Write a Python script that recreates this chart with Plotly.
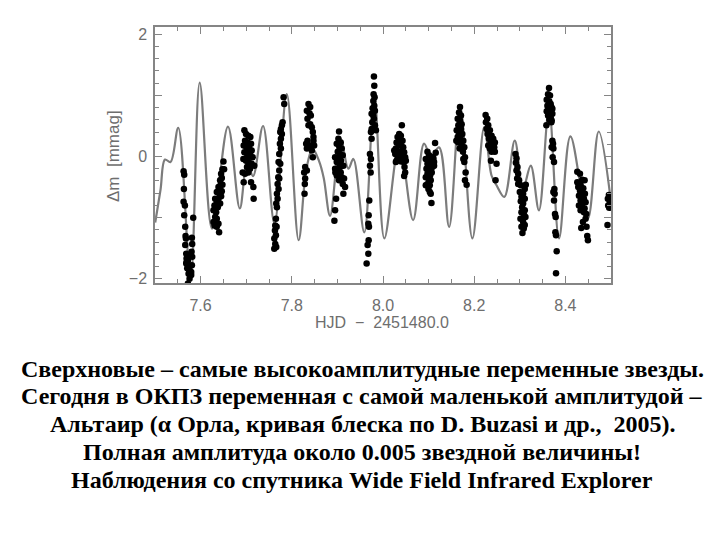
import plotly.graph_objects as go

# ---- model light curve (grey line): extrema / shoulders ----
model_hjd = [7.5005, 7.512, 7.522, 7.534, 7.551, 7.578, 7.598, 7.625, 7.660, 7.686,
             7.702, 7.715, 7.737, 7.762, 7.789, 7.815, 7.832, 7.846, 7.860, 7.870,
             7.884, 7.907, 7.924, 7.935, 7.959, 7.981, 8.003, 8.036, 8.066, 8.090,
             8.105, 8.123, 8.145, 8.169, 8.196, 8.222, 8.238, 8.249, 8.266, 8.289,
             8.307, 8.324, 8.342, 8.364, 8.386, 8.411, 8.449, 8.473, 8.500]
model_dm = [-1.08, -0.55, -0.05, -0.09, 0.47, -2.00, 1.21, -1.18, 0.49, -0.85,
            -0.10, -0.32, 0.50, -1.10, 1.02, -1.37, -0.20, 0.12, -0.08, -0.35,
            -0.97, 0.29, -0.20, -0.04, -1.24, 1.00, -1.34, 0.21, -1.04, 0.21,
            0.00, 0.15, -1.15, 0.83, -1.34, 0.48, -0.31, -0.47, -0.66, 0.26,
            -0.53, -0.15, -0.88, 0.78, -1.34, 0.33, -1.02, 0.41, -0.75]

# ---- WIRE observations (black dots) ----
obs_hjd = [
    # 7.56-7.58
    7.5627, 7.5641, 7.5634, 7.5627, 7.5656, 7.5641, 7.5663, 7.5670, 7.5678, 7.5663,
    7.5685, 7.5707, 7.5692, 7.5721, 7.5685, 7.5736, 7.5707, 7.5794, 7.5736, 7.5809,
    7.5816, 7.5802, 7.5816, 7.5809, 7.5838, 7.5758, 7.5721, 7.5794, 7.5692, 7.5750,
    # 7.63-7.65
    7.6501, 7.6479, 7.6515, 7.6450, 7.6465, 7.6428, 7.6443, 7.6479, 7.6392, 7.6428,
    7.6465, 7.6355, 7.6414, 7.6450, 7.6319, 7.6392, 7.6355, 7.6428, 7.6304, 7.6377,
    7.6282, 7.6341, 7.6319, 7.6355, 7.6282, 7.6392, 7.6355, 7.6406, 7.6304,
    # 7.69-7.72
    7.6960, 7.6996, 7.7047, 7.7091, 7.6974, 7.7033, 7.7106, 7.6945, 7.7004, 7.7069,
    7.7120, 7.6960, 7.7033, 7.7091, 7.7142, 7.6938, 7.6996, 7.7055, 7.7120, 7.7178,
    7.7018, 7.7084, 7.6923, 7.6974, 7.7047, 7.7106, 7.6945, 7.7157, 7.7164, 7.7018,
    # 7.76-7.78
    7.7820, 7.7834, 7.7798, 7.7783, 7.7761, 7.7747, 7.7783, 7.7761, 7.7739, 7.7761,
    7.7725, 7.7710, 7.7747, 7.7725, 7.7703, 7.7725, 7.7689, 7.7710, 7.7674, 7.7689,
    7.7659, 7.7674, 7.7652, 7.7637, 7.7667, 7.7630, 7.7652, 7.7616, 7.7637, 7.7616,
    7.7659,
    # 7.83-7.85
    7.8366, 7.8403, 7.8330, 7.8388, 7.8417, 7.8344, 7.8403, 7.8366, 7.8439, 7.8461,
    7.8475, 7.8315, 7.8403, 7.8490, 7.8330, 7.8439, 7.8461, 7.8293, 7.8330, 7.8271,
    7.8293, 7.8279, 7.8344, 7.8475, 7.8285,
    # 7.89-7.92
    7.9036, 7.9022, 7.9073, 7.8985, 7.9044, 7.9095, 7.9007, 7.9058, 7.9117, 7.8949,
    7.9022, 7.9080, 7.8985, 7.9044, 7.9131, 7.8949, 7.9007, 7.9073, 7.8985, 7.9095,
    7.9146, 7.9036, 7.9117, 7.9168, 7.9131, 7.8971, 7.8949, 7.8934, 7.9058, 7.8956,
    # 7.96-7.99
    7.9801, 7.9809, 7.9794, 7.9816, 7.9787, 7.9809, 7.9772, 7.9823, 7.9750, 7.9787,
    7.9801, 7.9765, 7.9823, 7.9736, 7.9750, 7.9714, 7.9736, 7.9714, 7.9729, 7.9699,
    7.9685, 7.9678, 7.9692, 7.9685, 7.9663, 7.9678, 7.9641, 7.9845, 7.9750,
    # 8.02-8.05
    8.0413, 8.0355, 8.0392, 8.0319, 8.0370, 8.0428, 8.0297, 8.0341, 8.0399, 8.0443,
    8.0282, 8.0413, 8.0319, 8.0377, 8.0464, 8.0268, 8.0428, 8.0486, 8.0297, 8.0355,
    8.0399, 8.0457, 8.0282, 8.0501, 8.0472, 8.0486, 8.0464, 8.0246, 8.0326,
    # 8.09-8.12
    8.1142, 8.0975, 8.1156, 8.1011, 8.1084, 8.0938, 8.1047, 8.1120, 8.0975, 8.1026,
    8.1084, 8.0953, 8.1011, 8.1069, 8.0975, 8.1033, 8.0938, 8.0996, 8.1047, 8.0975,
    8.1026, 8.0938, 8.0996, 8.1026, 8.1047, 8.1062, 8.1120, 8.1106,
    # 8.16-8.18
    8.1689, 8.1667, 8.1710, 8.1638, 8.1689, 8.1725, 8.1652, 8.1710, 8.1616, 8.1667,
    8.1740, 8.1638, 8.1696, 8.1761, 8.1652, 8.1725, 8.1783, 8.1681, 8.1754, 8.1798,
    8.1761, 8.1783, 8.1812, 8.1798, 8.1834, 8.1608,
    # 8.22-8.25
    8.2250, 8.2286, 8.2257, 8.2308, 8.2271, 8.2344, 8.2293, 8.2381, 8.2322, 8.2417,
    8.2366, 8.2453, 8.2395, 8.2308, 8.2439, 8.2344, 8.2417, 8.2381, 8.2453, 8.2366,
    8.2490, 8.2468,
    # 8.29-8.31
    8.2905, 8.2927, 8.2913, 8.2949, 8.2927, 8.2964, 8.2942, 8.2985, 8.2964, 8.3022,
    8.3131, 8.3109, 8.3000, 8.3073, 8.3036, 8.3109, 8.3022, 8.3073, 8.3051, 8.3109,
    8.3036, 8.3095, 8.3124, 8.3015, 8.3073, 8.3109, 8.3036, 8.3087, 8.3058,
    # 8.36-8.38
    8.3641, 8.3619, 8.3663, 8.3590, 8.3648, 8.3678, 8.3605, 8.3692, 8.3627, 8.3590,
    8.3663, 8.3714, 8.3619, 8.3678, 8.3648, 8.3699, 8.3583, 8.3692, 8.3714, 8.3729,
    8.3699, 8.3736, 8.3721, 8.3750, 8.3758, 8.3736, 8.3765, 8.3750, 8.3772, 8.3787,
    8.3780, 8.3794, 8.3809, 8.3794, 8.3714,
    # 8.42-8.45
    8.4261, 8.4319, 8.4370, 8.4421, 8.4261, 8.4333, 8.4282, 8.4392, 8.4319, 8.4370,
    8.4428, 8.4297, 8.4348, 8.4406, 8.4333, 8.4392, 8.4443, 8.4297, 8.4370, 8.4421,
    8.4333, 8.4406, 8.4457, 8.4443, 8.4348, 8.4464, 8.4479, 8.4494, 8.4384,
    # 8.49-8.50
    8.4953, 8.4931, 8.4974, 8.4938, 8.4960, 8.4923,
]
obs_dm = [
    -0.24, -0.30, -0.53, -0.74, -0.80, -0.96, -1.15, -1.30, -1.34, -1.45,
    -1.59, -1.62, -1.67, -1.70, -1.75, -1.78, -1.83, -1.89, -1.92, -1.78,
    -1.64, -1.56, -1.43, -1.33, -1.00, -2.00, -2.08, -1.94, -1.73, -1.86,
    -0.08, -0.21, -0.21, -0.28, -0.35, -0.39, -0.45, -0.46, -0.50, -0.53,
    -0.57, -0.58, -0.61, -0.65, -0.69, -0.69, -0.75, -0.77, -0.80, -0.83,
    -0.88, -0.91, -0.99, -1.02, -1.07, -1.10, -1.15, -1.24, -1.13,
    0.43, 0.37, 0.34, 0.32, 0.26, 0.23, 0.21, 0.18, 0.15, 0.13,
    0.10, 0.07, 0.04, 0.02, -0.01, -0.04, -0.07, -0.09, -0.12, -0.15,
    -0.17, -0.20, -0.26, -0.28, -0.26, -0.42, -0.42, -0.50, -0.69, -0.01,
    0.97, 0.86, 0.56, 0.51, 0.45, 0.40, 0.37, 0.29, 0.21, 0.13,
    0.04, -0.09, -0.12, -0.23, -0.34, -0.36, -0.45, -0.53, -0.61, -0.69,
    -0.77, -0.83, -1.02, -1.13, -1.15, -1.21, -1.29, -1.34, -1.43, -1.51,
    -1.48,
    0.86, 0.81, 0.75, 0.71, 0.67, 0.62, 0.53, 0.51, 0.48, 0.40,
    0.32, 0.21, 0.18, 0.18, 0.13, 0.10, -0.01, -0.17, -0.23, -0.26,
    -0.36, -0.61, 0.26, 0.26, -0.45,
    0.41, 0.29, 0.23, 0.21, 0.15, 0.13, 0.08, 0.04, 0.02, -0.01,
    -0.03, -0.07, -0.09, -0.12, -0.15, -0.20, -0.23, -0.26, -0.31, -0.34,
    -0.36, -0.39, -0.45, -0.50, -0.61, -0.69, -0.88, -1.05, -0.17, -0.26,
    1.31, 1.16, 1.02, 0.97, 0.91, 0.83, 0.79, 0.75, 0.70, 0.67,
    0.62, 0.56, 0.51, 0.40, 0.29, 0.04, -0.04, -0.15, -0.26, -0.72,
    -0.96, -1.10, -1.15, -1.37, -1.45, -1.59, -1.75, 0.43, 0.45,
    0.51, 0.37, 0.34, 0.32, 0.29, 0.26, 0.23, 0.21, 0.18, 0.15,
    0.13, 0.10, 0.07, 0.04, 0.07, 0.04, 0.01, -0.01, -0.07, -0.04,
    -0.08, -0.09, -0.09, -0.07, -0.17, -0.26, -0.32, 0.10, -0.01,
    0.22, 0.08, 0.06, 0.02, -0.01, -0.04, -0.07, -0.09, -0.12, -0.15,
    -0.17, -0.20, -0.23, -0.26, -0.28, -0.31, -0.34, -0.36, -0.39, -0.45,
    -0.47, -0.47, -0.53, -0.58, -0.61, -0.76, -0.15, -0.03,
    0.81, 0.72, 0.67, 0.62, 0.59, 0.53, 0.51, 0.45, 0.43, 0.40,
    0.37, 0.32, 0.29, 0.26, 0.23, 0.18, 0.15, 0.13, 0.08, -0.01,
    -0.04, -0.09, -0.26, -0.39, -0.46, 0.26,
    0.68, 0.62, 0.56, 0.51, 0.45, 0.43, 0.37, 0.34, 0.29, 0.29,
    0.23, 0.23, 0.18, 0.18, 0.15, 0.13, 0.10, 0.08, 0.08, -0.07,
    -0.12, -0.39,
    0.04, -0.03, -0.10, -0.17, -0.23, -0.28, -0.36, -0.39, -0.45, -0.47,
    -0.46, -0.53, -0.58, -0.61, -0.66, -0.69, -0.73, -0.77, -0.83, -0.88,
    -0.91, -0.96, -0.99, -1.02, -1.07, -1.12, -1.15, -1.18, -1.25,
    1.12, 1.02, 1.00, 0.93, 0.90, 0.86, 0.83, 0.81, 0.78, 0.74,
    0.71, 0.70, 0.67, 0.64, 0.60, 0.59, 0.51, 0.56, 0.26, 0.21,
    0.15, 0.13, -0.01, -0.09, -0.53, -0.58, -0.61, -0.72, -0.94, -0.99,
    -1.24, -1.29, -1.55, -1.91, 0.78,
    -0.25, -0.28, -0.38, -0.39, -0.42, -0.46, -0.50, -0.52, -0.56, -0.58,
    -0.61, -0.64, -0.66, -0.69, -0.72, -0.75, -0.75, -0.80, -0.83, -0.85,
    -0.88, -0.91, -0.94, -1.02, -1.17, -1.15, -1.30, -1.37, -1.07,
    -0.63, -0.69, -0.74, -0.80, -0.84, -1.12,
]

x_tick_vals = [7.6, 7.8, 8.0, 8.2, 8.4]
x_tick_text = ["7.6", "7.8", "8.0", "8.2", "8.4"]
y_tick_vals = [-2, -1, 0, 1, 2]
y_tick_text = ["\u22122", "", "0", "", "2"]

x_title = "HJD  \u2212  2451480.0"
y_title = "\u0394m  [mmag]"

caption_lines = [
    "Сверхновые – самые высокоамплитудные переменные звезды.",
    "Сегодня в ОКПЗ переменная с самой маленькой амплитудой –",
    "Альтаир (α Орла, кривая блеска по D. Buzasi и др.,  2005).",
    "Полная амплитуда около 0.005 звездной величины!",
    "Наблюдения со спутника Wide Field Infrared Explorer",
]

# ---- layout geometry (pixels) ----
W, H = 720, 540
PL, PR, PT, PB = 155, 611, 27, 283
pw, ph = PR - PL, PB - PT


def px_x(px):
    return (px - PL) / pw


def px_y(py):
    return (PB - py) / ph


AX = "#858585"
TXT = "#6e6e6e"

fig = go.Figure()
fig.add_trace(go.Scatter(
    x=model_hjd, y=model_dm, mode="lines",
    line=dict(color="#7c7c7c", width=2.2, shape="spline", smoothing=1.0),
    hoverinfo="skip", showlegend=False))
fig.add_trace(go.Scatter(
    x=obs_hjd, y=obs_dm, mode="markers",
    marker=dict(color="black", size=6.5, line=dict(width=0)),
    hoverinfo="skip", showlegend=False))

common = dict(showline=True, linecolor=AX, linewidth=1.5, mirror="allticks",
              ticks="inside", ticklen=7, tickwidth=1, tickcolor=AX,
              showgrid=False, zeroline=False,
              tickfont=dict(family="Liberation Sans", size=16, color=TXT))

fig.update_xaxes(range=[7.5, 8.5], tickmode="array", tickvals=x_tick_vals,
                 ticktext=x_tick_text, ticklabelstandoff=7,
                 minor=dict(dtick=0.05, tick0=7.5, ticks="inside", ticklen=4,
                            tickcolor=AX, tickwidth=1, showgrid=False),
                 **common)
fig.update_yaxes(range=[-2.07, 2.12], tickmode="array", tickvals=y_tick_vals,
                 ticktext=y_tick_text, ticklabelstandoff=3,
                 minor=dict(dtick=0.2, tick0=0, ticks="inside", ticklen=4,
                            tickcolor=AX, tickwidth=1, showgrid=False),
                 **common)

annotations = [
    dict(text=x_title, x=px_x(382), y=px_y(322), xref="paper", yref="paper",
         showarrow=False, xanchor="center", yanchor="middle",
         font=dict(family="Liberation Sans", size=16, color=TXT)),
    dict(text=y_title, x=px_x(113), y=px_y(156), xref="paper", yref="paper",
         showarrow=False, textangle=-90, xanchor="center", yanchor="middle",
         font=dict(family="Liberation Sans", size=17, color=TXT)),
]
caption_y = [369, 396, 424, 452, 480]
for line, cy in zip(caption_lines, caption_y):
    annotations.append(dict(
        text="<b>" + line + "</b>", x=px_x(362), y=px_y(cy),
        xref="paper", yref="paper", showarrow=False,
        xanchor="center", yanchor="middle",
        font=dict(family="Liberation Serif", size=24, color="black")))

fig.update_layout(width=W, height=H,
                  margin=dict(l=PL, r=W - PR, t=PT, b=H - PB, pad=0),
                  plot_bgcolor="white", paper_bgcolor="white",
                  showlegend=False, annotations=annotations)

fig.write_html("out.html")
